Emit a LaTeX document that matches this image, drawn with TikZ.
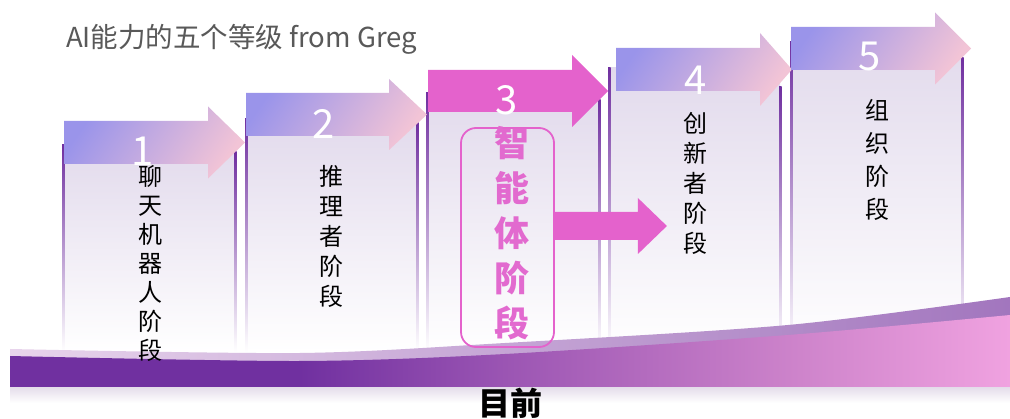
\documentclass[tikz,border=0pt]{standalone}
\usepackage{fontspec}
\setmainfont{Noto Sans CJK SC}
\usetikzlibrary{calc}
\definecolor{titlegray}{HTML}{595959}
\definecolor{purpleA}{HTML}{7030A0}
\definecolor{arrA}{HTML}{9A94EA}
\definecolor{arrB}{HTML}{F2C4D6}
\definecolor{pinkA}{HTML}{E462CC}
\definecolor{pinkT}{HTML}{E26ACF}
\definecolor{paneltop}{HTML}{E2DAEC}
\definecolor{bandC1}{HTML}{7030A0}
\definecolor{bandC2}{HTML}{9B55B3}
\definecolor{bandC3}{HTML}{CC82CA}
\definecolor{bandC4}{HTML}{F0A2E0}
\definecolor{stripL}{HTML}{E8D4EC}
\definecolor{stripR}{HTML}{A276BE}
\definecolor{shadowc}{HTML}{E4DCEA}
\newcommand{\myarrow}[7]{\path[#1] (#2,#5-#6) -- (#3,#5-#6) -- (#3,#5-#7) -- (#4,#5) -- (#3,#5+#7) -- (#3,#5+#6) -- (#2,#5+#6) -- cycle;}
\begin{document}
\begin{tikzpicture}[x=1pt,y=-1pt,
  panelfill/.style={top color=paneltop, bottom color=white, draw=none},
  border/.style={top color=purpleA, middle color=purpleA!50, bottom color=white, draw=none},
  gradarrow/.style={top color=arrA, bottom color=arrB, shading angle=55, draw=none},
  pinkarrow/.style={fill=pinkA, draw=none},
  num/.style={text=white, font=\fontsize{40}{40}\selectfont, inner sep=0pt},
  vtext/.style={align=center, inner sep=0pt, text=black},
  stagebox/.style={draw=pinkA, line width=1.8pt, rounded corners=15pt, minimum width=93pt, minimum height=219pt, inner sep=0pt},
]
\useasboundingbox (0,0) rectangle (1010,419);
\fill[white] (0,0) rectangle (1010,419);

% panels
\shade[panelfill] (63,145) rectangle (235,352);
\shade[panelfill] (246,119) rectangle (417,352);
\shade[panelfill] (427,93) rectangle (599,352);
\shade[panelfill] (609,68) rectangle (780,352);
\shade[panelfill] (791,42) rectangle (962,352);
% borders
\shade[border] (62,145) rectangle (64.5,352);
\shade[border] (234,152) rectangle (236.5,352);
\shade[border] (245,119) rectangle (247.5,352);
\shade[border] (416,123) rectangle (418.5,352);
\shade[border] (426,93) rectangle (428.5,352);
\shade[border] (598,100) rectangle (600.5,352);
\shade[border] (608,68) rectangle (610.5,352);
\shade[border] (779,87) rectangle (781.5,352);
\shade[border] (790,42) rectangle (792.5,352);
\shade[border] (961,58) rectangle (963.5,352);

% stage arrows
\myarrow{gradarrow}{64}{208}{245}{142.5}{21.5}{36}
\myarrow{gradarrow}{246}{389}{427}{114.5}{21.5}{35.5}
\myarrow{pinkarrow}{428}{572}{608}{91}{21}{36}
\myarrow{gradarrow}{616}{760}{792}{69.5}{21.5}{36.5}
\myarrow{gradarrow}{791}{935}{971}{48.5}{21.5}{36}

% band shadow
\shade[top color=shadowc, bottom color=white] (10,387) rectangle (1010,403);
% light strip
\path[left color=stripL, right color=stripR]
  plot[smooth] coordinates {(10,349) (300,353) (505,343) (788,325) (1010,297)}
  -- (1010,387) -- (10,387) -- cycle;
% main band
\begin{scope}
\clip plot[smooth] coordinates {(10,356) (300,361) (505,354) (788,335) (1010,315)}
  -- (1010,387) -- (10,387) -- cycle;
\fill[bandC1] (10,290) rectangle (300,387);
\shade[left color=bandC1, right color=bandC2] (299.5,290) rectangle (505,387);
\shade[left color=bandC2, right color=bandC3] (504.5,290) rectangle (788,387);
\shade[left color=bandC3, right color=bandC4] (787.5,290) rectangle (1010,387);
\end{scope}

% title
\node[anchor=base west, inner sep=0pt, text=titlegray, font=\fontsize{27.5}{27.5}\selectfont] (title) at (66,48) {AI能力的五个等级 from Greg};

% numbers
\node[num] (n1) at (143,151) {1};
\node[num] (n2) at (324,124) {2};
\node[num] (n3) at (507,100) {3};
\node[num] (n4) at (696,80) {4};
\node[num] (n5) at (870,57) {5};

% stage texts
\node[vtext, font=\fontsize{24}{29}\selectfont] (t1) at (150,263) {聊\\天\\机\\器\\人\\阶\\段};
\node[vtext, font=\fontsize{24}{30}\selectfont] (t2) at (331,236) {推\\理\\者\\阶\\段};
\node[vtext, font=\fontsize{24}{30}\selectfont] (t4) at (695,183) {创\\新\\者\\阶\\段};
\node[vtext, font=\fontsize{24}{33}\selectfont] (t5) at (877,160) {组\\织\\阶\\段};

% current stage box
\node[stagebox] (b3) at (507.5,237.5) {};
\node[vtext, text=pinkT, font=\fontsize{35}{45}\selectfont\bfseries] (t3) at (512,233) {智\\能\\体\\阶\\段};
\path[pinkarrow] ($(b3.east)+(0,-25.5)$) -- ($(b3.east)+(83,-25.5)$) -- ($(b3.east)+(83,-39.5)$)
  -- ($(b3.east)+(112,-11.5)$) -- ($(b3.east)+(83,16.5)$) -- ($(b3.east)+(83,2.5)$)
  -- ($(b3.east)+(0,2.5)$) -- cycle;

% now label
\node[inner sep=0pt, font=\fontsize{32}{32}\selectfont\bfseries] (now) at (510,403) {目前};
\end{tikzpicture}
\end{document}
